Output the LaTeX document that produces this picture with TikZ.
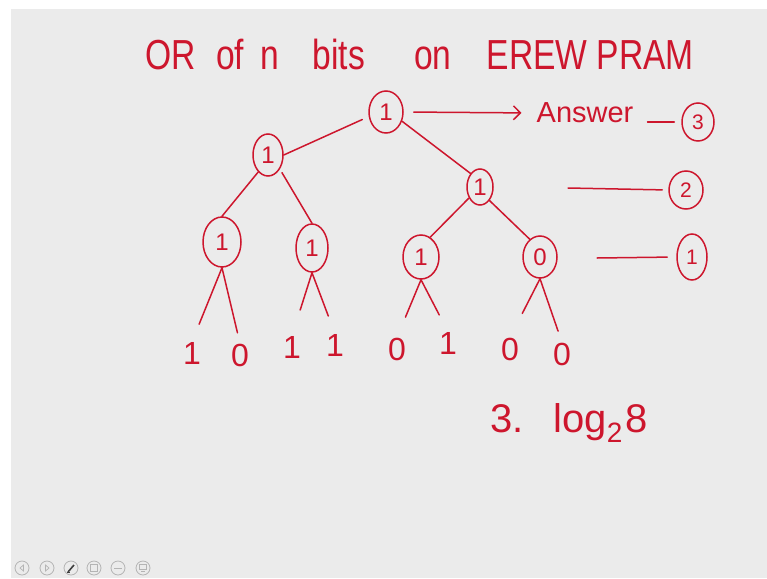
\documentclass[tikz,border=0pt]{standalone}
\usepackage{fontspec}
\usepackage{graphicx}
\setmainfont{Liberation Sans}
\usetikzlibrary{shapes.geometric,arrows.meta}
\definecolor{ink}{RGB}{205,22,45}
\definecolor{board}{RGB}{235,235,235}
\definecolor{iconc}{RGB}{180,180,180}
\begin{document}
\begin{tikzpicture}[x=1pt,y=-1pt,
  inkline/.style={draw=ink, line width=1.5pt, line cap=round},
  bitnode/.style={ellipse, draw=ink, line width=1.5pt, inner sep=0pt, text=ink, font=\fontsize{24}{24}\selectfont},
  lvlnode/.style={ellipse, draw=ink, line width=1.5pt, inner sep=0pt, text=ink, font=\fontsize{21}{21}\selectfont},
  leaf/.style={inner sep=0pt, text=ink, font=\fontsize{32}{32}\selectfont},
  inktext/.style={inner sep=0pt, text=ink},
  iconbtn/.style={circle, draw=iconc, line width=0.8pt, minimum size=14pt, inner sep=0pt}]
\useasboundingbox (0,0) rectangle (767,578);
\fill[white] (0,0) rectangle (767,578);
\fill[board] (11,9) rectangle (767,578);

% title
\node[inktext, anchor=base west] (title) at (145,69)
  {\fontsize{42}{42}\selectfont\scalebox{0.8}[1]{OR \hspace{14pt}of \hspace{9pt}n \hspace{30pt}bits \hspace{50pt}on \hspace{32pt}EREW PRAM}};

% tree nodes
\node[bitnode, minimum width=34pt, minimum height=42pt] (root) at (386,112) {1};
\node[bitnode, minimum width=30pt, minimum height=42pt] (L) at (268,155) {1};
\node[bitnode, minimum width=26pt, minimum height=36pt] (R) at (480,187) {1};
\node[bitnode, minimum width=38pt, minimum height=50pt] (LL) at (222,242) {1};
\node[bitnode, minimum width=32pt, minimum height=48pt] (LR) at (312,248) {1};
\node[bitnode, minimum width=36pt, minimum height=44pt] (RL) at (421,257) {1};
\node[bitnode, minimum width=34pt, minimum height=42pt] (RR) at (540,257) {0};

% leaves
\node[leaf] (l1) at (192,353) {1};
\node[leaf] (l2) at (240,355) {0};
\node[leaf] (l3) at (292,347) {1};
\node[leaf] (l4) at (335,345) {1};
\node[leaf] (l5) at (397,349) {0};
\node[leaf] (l6) at (448,343) {1};
\node[leaf] (l7) at (510,349) {0};
\node[leaf] (l8) at (562,354) {0};

% internal edges
\draw[inkline, shorten <=7pt] (root.195) -- (L.east);
\draw[inkline] (root.-30) -- (R.125);
\draw[inkline] (L.240) -- (LL.north);
\draw[inkline, shorten <=4pt] (L.-50) -- (LR.north);
\draw[inkline] (R.225) -- (RL.65);
\draw[inkline] (R.-55) -- (RR.120);

% leaf edges
\draw[inkline, shorten >=19pt] (LL.south) -- (l1.north);
\draw[inkline, shorten >=11pt] (LL.south) -- (l2.north);
\draw[inkline, shorten >=27pt] (LR.south) -- (l3.north);
\draw[inkline, shorten >=19pt] (LR.south) -- (l4.north);
\draw[inkline, shorten >=22pt] (RL.south) -- (l5.north);
\draw[inkline, shorten >=19pt] (RL.south) -- (l6.north);
\draw[inkline, shorten >=27pt] (RR.south) -- (l7.north);
\draw[inkline, shorten >=12pt] (RR.south) -- (l8.north);

% answer and levels
\node[inktext, font=\fontsize{29}{29}\selectfont] (ans) at (585,113) {Answer};
\draw[inkline, -{Straight Barb[length=7pt,width=14pt]}, shorten <=10pt, shorten >=15pt] (root.east) -- (ans.west);

\node[lvlnode, minimum width=32pt, minimum height=38pt] (c3) at (698,122) {3};
\node[lvlnode, minimum width=34pt, minimum height=38pt] (c2) at (686,190) {2};
\node[lvlnode, minimum width=30pt, minimum height=46pt] (c1) at (692,257) {1};

\draw[inkline, shorten <=14pt, shorten >=7pt] (ans.east |- c3.west) -- (c3.west);
\coordinate (d2) at (568,188);
\draw[inkline, shorten >=6pt] (d2) -- (c2.west);
\coordinate (d1) at (597,258);
\draw[inkline, shorten >=9pt] (d1) -- (c1.west);

% formula
\node[inktext, anchor=base west, font=\fontsize{40}{40}\selectfont] (formula) at (490,432)
  {3. \hspace{15pt}log\textsubscript{2}\hspace{3pt}8};

% toolbar icons
\node[iconbtn] (i1) at (22,568) {};
\node[iconbtn] (i2) at (47,568) {};
\node[iconbtn] (i3) at (71,568) {};
\node[iconbtn] (i4) at (94,568) {};
\node[iconbtn] (i5) at (118,568) {};
\node[iconbtn] (i6) at (143,568) {};
\draw[iconc, line width=0.7pt] (i1) ++(1.5,-3) -- ++(-3.5,3) -- ++(3.5,3) -- cycle;
\draw[iconc, line width=0.7pt] (i2) ++(-1.5,-3) -- ++(3.5,3) -- ++(-3.5,3) -- cycle;
\draw[black!75, line width=1.6pt] (i3) ++(-3,4) -- ++(6,-7);
\draw[black!75, line width=0.6pt] (i3) ++(-4,4.5) -- ++(3,0);
\draw[iconc, line width=0.7pt] (i4) ++(-3.5,-3.5) rectangle ++(7,7);
\draw[iconc, line width=0.7pt] (i5) ++(-4,0) -- ++(8,0);
\draw[iconc, line width=0.7pt] (i6) ++(-3.5,-4) rectangle ++(7,5);
\draw[iconc, line width=0.7pt] (i6) ++(-2,3) -- ++(4,0);
\end{tikzpicture}
\end{document}
